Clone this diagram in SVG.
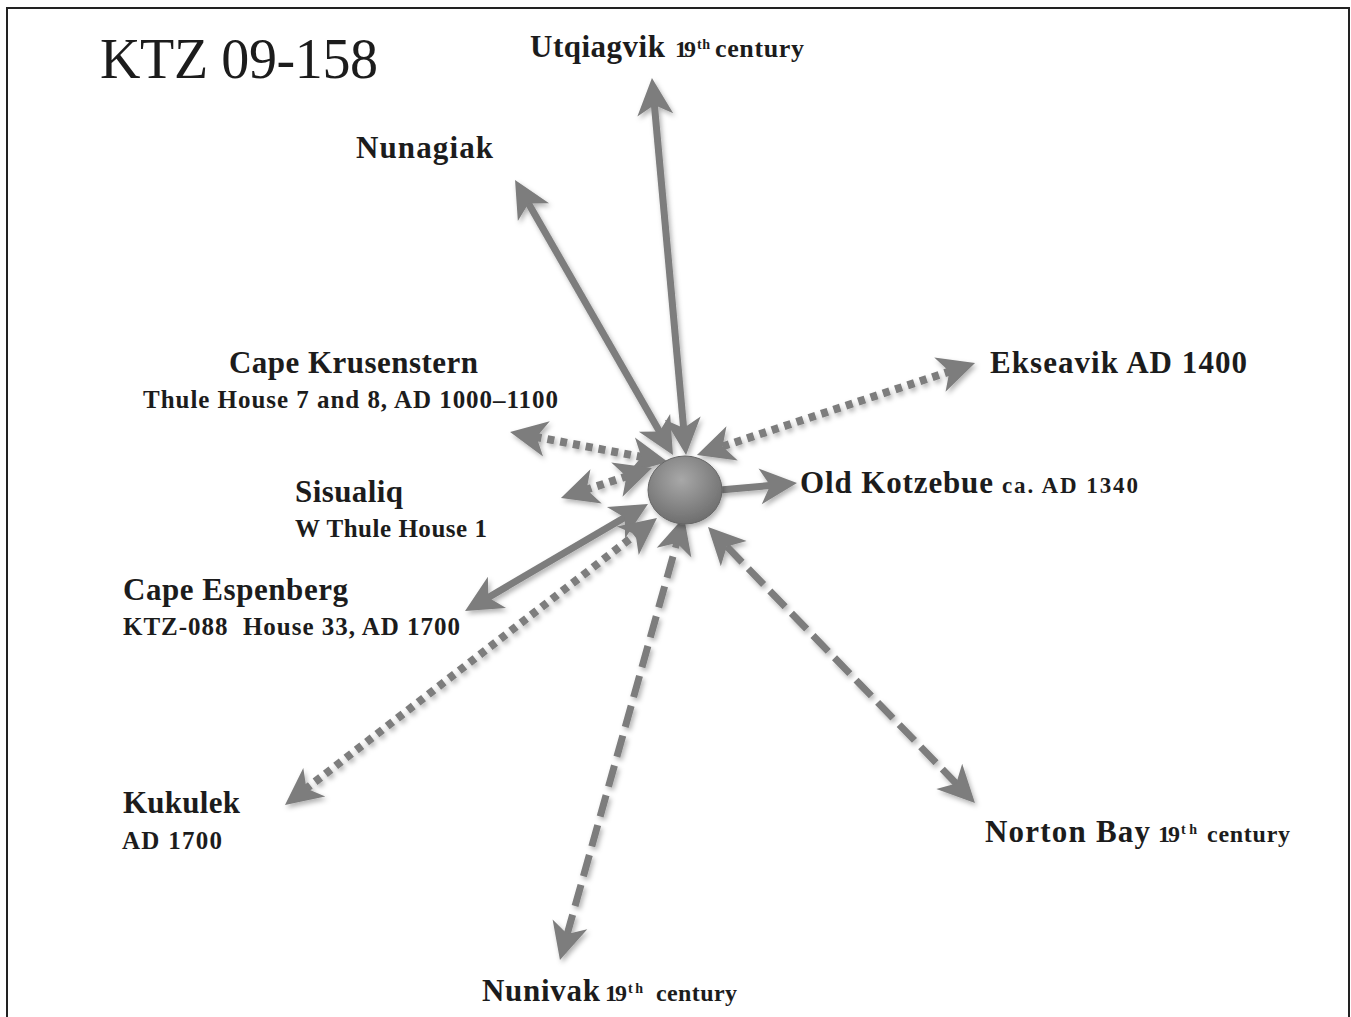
<svg xmlns="http://www.w3.org/2000/svg" width="1351" height="1017" viewBox="0 0 1351 1017">
<defs>
<style>
text{font-family:"Liberation Serif","Times New Roman",serif;fill:#1c1c1c;font-weight:bold;}
.title{font-size:56px;font-weight:normal;}
.main{font-size:31px;}
.sub{font-size:25px;}
.sm{font-size:24px;}
.sup{font-size:14px;}
.conn{fill:none;stroke:#7d7d7d;stroke-width:7;}
.solid{marker-start:url(#ah);marker-end:url(#ah);}
.dot{stroke-dasharray:7 6;stroke-width:8;marker-start:url(#ah);marker-end:url(#ah);}
.dash{stroke-dasharray:22 9;marker-start:url(#ah);marker-end:url(#ah);}
</style>
<marker id="ah" viewBox="0 -20 40 40" markerUnits="userSpaceOnUse" markerWidth="40" markerHeight="40" refX="12" refY="0" orient="auto-start-reverse" overflow="visible">
<path d="M37,0 L0,-18 L10,0 L0,18 Z" fill="#7d7d7d"/>
</marker>
<filter id="sh" x="-20%" y="-20%" width="140%" height="140%">
<feDropShadow dx="2" dy="3" stdDeviation="2.5" flood-color="#000" flood-opacity="0.3"/>
</filter>
<radialGradient id="ball" cx="0.45" cy="0.35" r="0.7">
<stop offset="0" stop-color="#a8a8a8"/>
<stop offset="1" stop-color="#6a6a6a"/>
</radialGradient>
</defs>
<rect x="0" y="0" width="1351" height="1017" fill="#ffffff"/>
<rect x="7" y="8" width="1342" height="1040" fill="none" stroke="#222" stroke-width="2"/>

<text class="title" x="100" y="78" textLength="278">KTZ 09-158</text>

<g id="connectors" filter="url(#sh)">
<path class="conn solid" d="M654.2,102.9 L683.8,430.1"/>
<path class="conn solid" d="M527.5,201.7 L660.5,433.3"/>
<path class="conn dot" d="M951.3,370.9 L720.7,447.1"/>
<path class="conn dot" d="M534.6,436.7 L643.4,457.3"/>
<path class="conn dot" d="M584.7,490.2 L628.3,475.8"/>
<path class="conn" d="M720,490 L772.1,485.3" marker-end="url(#ah)"/>
<path class="conn solid" d="M486.6,598.4 L626.4,516.6"/>
<path class="conn dot" d="M304.8,789.7 L637.2,533.3"/>
<path class="conn dash" d="M566.7,935.9 L677.3,541.1"/>
<path class="conn dash" d="M957.6,785.0 L725.4,545.0"/>
</g>

<g id="kotzebue-center" filter="url(#sh)">
<ellipse cx="685" cy="490" rx="37" ry="34" fill="url(#ball)" stroke="#666" stroke-width="1"/>
</g>

<g id="utqiagvik">
<text class="main" x="530" y="57" textLength="135">Utqiagvik</text>
<text class="sm" x="675" y="57" textLength="21">19</text>
<text class="sup" x="697" y="49" textLength="13">th</text>
<text class="sm" x="715" y="57" textLength="89" style="font-size:26px">century</text>
</g>
<g id="nunagiak">
<text class="main" x="356" y="158" textLength="137">Nunagiak</text>
</g>
<g id="cape-krusenstern">
<text class="main" x="229" y="373" textLength="249">Cape Krusenstern</text>
<text class="sub" x="143" y="408" textLength="415">Thule House 7 and 8, AD 1000–1100</text>
</g>
<g id="sisualiq">
<text class="main" x="295" y="502" textLength="108">Sisualiq</text>
<text class="sub" x="295" y="537" textLength="192">W Thule House 1</text>
</g>
<g id="cape-espenberg">
<text class="main" x="123" y="600" textLength="225">Cape Espenberg</text>
<text class="sub" x="123" y="635" textLength="337" xml:space="preserve">KTZ-088  House 33, AD 1700</text>
</g>
<g id="ekseavik">
<text class="main" x="990" y="373" textLength="257">Ekseavik AD 1400</text>
</g>
<g id="old-kotzebue">
<text class="main" x="800" y="493" textLength="193">Old Kotzebue</text>
<text class="sub" x="1002" y="493" textLength="136" style="font-size:23px">ca. AD 1340</text>
</g>
<g id="kukulek">
<text class="main" x="123" y="813" textLength="117">Kukulek</text>
<text class="sub" x="122" y="849" textLength="100">AD 1700</text>
</g>
<g id="nunivak">
<text class="main" x="482" y="1001" textLength="118">Nunivak</text>
<text class="sm" x="605" y="1001" textLength="22">19</text>
<text class="sup" x="628" y="993" textLength="15">th</text>
<text class="sm" x="656" y="1001" textLength="81">century</text>
</g>
<g id="norton-bay">
<text class="main" x="985" y="842" textLength="165">Norton Bay</text>
<text class="sm" x="1158" y="842" textLength="22">19</text>
<text class="sup" x="1181" y="834" textLength="16">th</text>
<text class="sm" x="1207" y="842" textLength="83">century</text>
</g>
</svg>
